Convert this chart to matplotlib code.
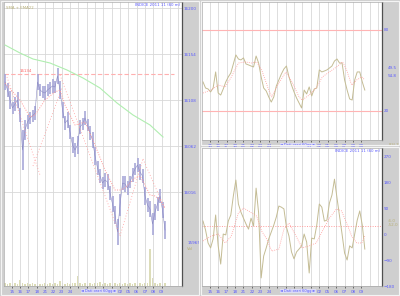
import matplotlib.pyplot as plt
from matplotlib.patches import Rectangle

# ---- hourly price bars (bar index 0..64) ----
price_mid = [16126, 16118, 16108, 16100, 16104, 16108, 16093, 16058, 16078, 16086,
             16090, 16092, 16095, 16126, 16118, 16116, 16115, 16118, 16120, 16122,
             16121, 16132, 16118, 16098, 16085, 16088, 16076, 16063, 16058, 16063,
             16081, 16084, 16090, 16083, 16075, 16068, 16052, 16040, 16032, 16025,
             16028, 16026, 16015, 16004, 15993, 15976, 16003, 16025, 16024, 16020,
             16026, 16033, 16039, 16043, 16036, 16032, 16012, 16003, 15999, 15984,
             15996, 16004, 16012, 15998, 15978]
price_rng = [16, 14, 18, 12, 14, 16, 14, 40, 20, 14,
             12, 12, 14, 16, 12, 12, 14, 12, 12, 14,
             12, 16, 18, 16, 14, 16, 14, 16, 14, 18,
             14, 12, 14, 12, 14, 16, 18, 14, 14, 12,
             14, 16, 14, 16, 18, 26, 22, 14, 16, 14,
             12, 14, 12, 14, 16, 14, 18, 14, 16, 22,
             16, 14, 14, 16, 18]
volume = [3, 2, 3, 2, 3, 2, 6, 3, 2, 3,
          2, 3, 2, 3, 2, 2, 3, 2, 3, 2,
          3, 2, 5, 3, 2, 3, 2, 3, 3, 10,
          3, 2, 3, 2, 3, 2, 3, 3, 4, 2,
          3, 2, 3, 2, 3, 2, 3, 2, 3, 2,
          3, 2, 3, 2, 3, 2, 3, 3, 37, 8,
          3, 2, 3, 2, 3]

ema_x = [0, 6, 10, 12, 16, 20, 22, 24, 28, 32, 36, 40, 44, 46, 48, 52, 54, 56, 58, 60, 62, 64]
ema_y = [16125, 16108, 16091, 16093, 16108, 16116, 16118, 16103, 16083, 16086, 16063,
         16038, 16018, 16018, 16020, 16030, 16032, 16023, 16013, 16012, 16008, 16000]
sma_x = [0, 6, 11.2, 18, 24.8, 31.2, 38, 44.8, 51.2, 58, 63.2]
sma_y = [16163, 16155, 16149, 16145, 16138, 16130, 16120, 16105, 16093, 16083, 16071]

trend_x = [[0.8, 14], [22, 46], [46, 55.2], [55.2, 64], [11.2, 22.8]]
trend_y = [[16131, 16033], [16133, 15972], [15972, 16049], [16049, 15999], [16042, 16120]]
resistance = 16134

price_ticks = [16200, 16154, 16108, 16062, 16016]
last_price = 15965

# ---- RSI panel ----
rsi = [41.5, 37, 36.3, 34.1, 37, 48.9, 33.3, 31.8, 36.3, 41.5,
       45.2, 48.1, 54.8, 61.5, 58.5, 57.8, 59.3, 54.8, 54.1, 53.3,
       52.6, 60.7, 55.5, 45.2, 37, 34.8, 30.4, 26.6, 30.4, 38.5,
       43, 47.4, 51.1, 53.3, 45.2, 39.2, 34.1, 29.6, 25.9, 22.2,
       35.5, 32.6, 37.8, 31.1, 36.3, 37, 50.4, 48.9, 49.6, 50.4,
       51.8, 53.3, 57, 58.5, 55.5, 55.5, 43, 35.5, 28.9, 28.1,
       43, 48.9, 48.9, 41.5, 35.5]
rsi_sig_x = [0, 3.2, 6, 8.8, 11.2, 14, 16.8, 19.2, 21.2, 23.2, 26, 27.2, 30, 32.8,
             35.2, 38, 39.2, 42, 44.8, 47.2, 50, 52.8, 55.2, 56.8, 58.8, 60.8, 62.8, 64]
rsi_sig_y = [33.3, 35.5, 39.2, 37.8, 45.2, 55.5, 56.3, 55.5, 56.3, 50.4, 35.5, 30.4, 40.7, 48.9,
             41.5, 30.4, 28.1, 31.8, 37, 45.2, 48.9, 52.6, 56.3, 50.4, 39.2, 43, 45.2, 43]

# ---- CCI panel ----
cci = [45, 14, -31, -48, -17, 66, -41, -104, 0, -3,
       45, 66, 132, 187, 104, 76, 55, 35, 17, 55,
       28, 159, 73, -152, -76, -48, -17, 7, 31, 59,
       97, 93, 87, 24, -7, -62, -86, -62, -52, -41,
       0, -28, -135, -14, -17, 31, 104, 93, 45, 48,
       107, 135, 190, 125, 62, 0, -66, -90, -41, -48,
       0, 48, 80, 31, -52]
cci_sig_x = [0, 3.2, 6, 8.8, 11.2, 14, 16, 18, 20, 21.2, 23.2, 25.2, 27.2, 30, 32,
             34, 36.8, 39.2, 42, 44.8, 47.2, 50, 52.8, 54.8, 56.8, 58.8, 60.8, 62.8, 64]
cci_sig_y = [-24, -7, 0, -31, -7, 73, 90, 80, 69, 62, 10, -17, -59, -52, 17,
             38, -7, -48, -41, -31, 10, 55, 87, 80, 38, -7, -31, -31, -7]
cci_mean = 28

day_labels = ['15', '16', '17', '18', '21', '22', '23', '24', '25', '28',
              '29', '30', '01', '02', '05', '06', '07', '08', '09']
shown = [True] * 8 + [False] * 5 + [True] * 6

BLUE = '#5a5aff'
KHAKI = '#b8b078'
GRID = '#d8d8d8'
RED = '#ff9a9a'
NAV = '\u25c4 Dati orari 60gg \u25ba'

fig = plt.figure(figsize=(4, 2.96), dpi=100, facecolor='#cfcfcf')

# panel frames
for x0, y0, w, h in [(1, 1, 198, 294), (201, 1, 198, 144), (201, 147, 198, 148)]:
    fig.patches.append(Rectangle((x0 / 400, 1 - (y0 + h) / 296), w / 400, h / 296,
                                 transform=fig.transFigure, fill=False,
                                 edgecolor='#f4f4f4', lw=0.8))

rect1 = [4 / 400, 10 / 296, 178 / 400, 284 / 296]
vol_ax = fig.add_axes(rect1)
ax1 = fig.add_axes(rect1)
ax2 = fig.add_axes([202 / 400, 156 / 296, 180 / 400, 138 / 296])
ax3 = fig.add_axes([202 / 400, 10 / 296, 180 / 400, 138 / 296])

n = len(price_mid)
xs = list(range(n))
grid_x = [2.68 + 3.333 * k for k in range(len(day_labels))]
grid_all = [2.68 + 3.333 * k for k in range(21)]

# volume underneath the price axes
vol_ax.set_facecolor('white')
vol_ax.set_xlim(-0.4, 70.8)
vol_ax.set_ylim(0, 284)
vol_ax.bar(xs, volume, width=0.5, color='#dcdcb8')
vol_ax.set_xticks([])
vol_ax.set_yticks([])
for s in vol_ax.spines.values():
    s.set_visible(False)

for ax in (ax1, ax2, ax3):
    if ax is ax1:
        ax.patch.set_visible(False)
    else:
        ax.set_facecolor('white')
    ax.set_xlim(-0.4, 70.8)
    for gx in grid_all:
        ax.axvline(gx, color=GRID, lw=0.6, zorder=0)
    ax.set_xticks(grid_x)
    ax.set_xticklabels([d if s else '' for d, s in zip(day_labels, shown)])
    ax.tick_params(axis='x', length=1.5, width=0.5, color='#404040', pad=1.5,
                   labelsize=3, labelcolor=BLUE)
    ax.yaxis.tick_right()
    ax.tick_params(axis='y', length=0, pad=1, labelsize=3, labelcolor=BLUE)
    for s in ax.spines.values():
        s.set_color('#a8a8a8')
        s.set_linewidth(0.5)
    ax.spines['right'].set_color('#505050')
    ax.spines['right'].set_linewidth(0.9)
    ax.annotate(NAV, xy=(0.435, 0), xycoords='axes fraction', xytext=(0, -3.6),
                textcoords='offset points', color=BLUE, fontsize=2.6,
                va='center', ha='left',
                bbox=dict(boxstyle='square,pad=0.1', fc='#dcdcf4', ec='none'))

# ---- price panel ----
ax1.set_ylim(15922, 16206)
ax1.set_yticks(price_ticks)
for t in price_ticks:
    ax1.axhline(t, color=GRID, lw=0.6, zorder=0)

lows = [m - r / 2 for m, r in zip(price_mid, price_rng)]
highs = [m + r / 2 for m, r in zip(price_mid, price_rng)]
ax1.vlines(xs, lows, highs, color='#a8a8d8', lw=1.2, zorder=3)
ax1.plot(xs, price_mid, color='#8c8cc4', lw=0.4, zorder=3)
ax1.plot(sma_x, sma_y, color='#b0eeb0', lw=0.8, zorder=4)
ax1.plot(ema_x, ema_y, color=RED, lw=0.7, ls=(0, (1, 1.5)), zorder=4)
for tx, ty in zip(trend_x, trend_y):
    ax1.plot(tx, ty, color=RED, lw=0.6, ls=(0, (1, 2.5)), zorder=4)
ax1.axhline(resistance, xmin=0, xmax=0.955, color='#ffb0b0', lw=0.8, ls=(0, (4, 2)), zorder=2)
ax1.text(6, resistance + 2, str(resistance), color='#ff6060', fontsize=2.8)
ax1.text(0.01, 0.985, 'SMA + EMA22', transform=ax1.transAxes, color=KHAKI,
         fontsize=2.8, va='top')
ax1.text(0.99, 0.995, 'INDICE 2011 11 (60 m)', transform=ax1.transAxes, color=BLUE,
         fontsize=2.8, va='top', ha='right')
ax1.text(1.03, last_price, str(last_price), transform=ax1.get_yaxis_transform(),
         color=BLUE, fontsize=3, va='center')
ax1.text(1.03, last_price - 6, 'Vol', transform=ax1.get_yaxis_transform(),
         color=KHAKI, fontsize=3, va='center')

# ---- RSI panel ----
ax2.set_ylim(-1.5, 100.7)
ax2.set_yticks([80, 20])
for lvl in (80, 20):
    ax2.axhline(lvl, color='#ffb4b4', lw=0.8, zorder=1)
ax2.plot(xs, rsi, color='#c4bc94', lw=0.7, zorder=3)
ax2.plot(rsi_sig_x, rsi_sig_y, color=RED, lw=0.6, ls=(0, (1, 1.5)), zorder=4)
ax2.text(1.03, 52, '49.5', transform=ax2.get_yaxis_transform(), color=BLUE,
         fontsize=3, va='center')
ax2.text(1.03, 46, '54.8', transform=ax2.get_yaxis_transform(), color=BLUE,
         fontsize=3, va='center')
ax2.text(1.04, -0.035, 'RSI 29', transform=ax2.transAxes, color=KHAKI,
         fontsize=2.6, va='center')

# ---- CCI panel ----
ax3.set_ylim(-180, 298)
ax3.set_yticks([270, 180, 90, 0, -90, -180])
ax3.axhline(cci_mean, color='#ff9c9c', lw=0.7, ls=(0, (1, 1.5)), zorder=1)
ax3.plot(xs, cci, color='#c4bc94', lw=0.7, zorder=3)
ax3.plot(cci_sig_x, cci_sig_y, color=RED, lw=0.6, ls=(0, (1, 1.5)), zorder=4)
ax3.text(1.03, 45, '-6.0', transform=ax3.get_yaxis_transform(), color=KHAKI,
         fontsize=3, va='center')
ax3.text(1.03, 30, '-52.0', transform=ax3.get_yaxis_transform(), color=KHAKI,
         fontsize=3, va='center')
ax3.text(0.99, 0.995, 'INDICE 2011 11 (60 m)', transform=ax3.transAxes, color=BLUE,
         fontsize=2.8, va='top', ha='right')

fig.savefig('out.png', dpi=100, facecolor=fig.get_facecolor())
